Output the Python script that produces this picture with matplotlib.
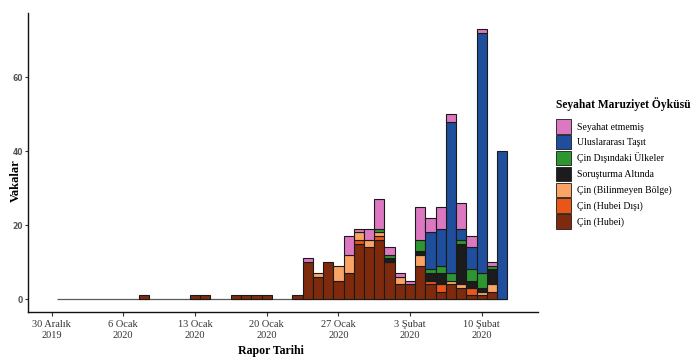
import matplotlib
matplotlib.use("Agg")
import matplotlib.pyplot as plt
import matplotlib.dates as mdates
from matplotlib.patches import Patch
import numpy as np
import pandas as pd

# daily report dates, 31 Dec 2019 .. 12 Feb 2020
dates = pd.date_range("2019-12-31", "2020-02-12", freq="D")

# Dec 31 - Jan 23 (24 days): only Hubei cases
early_zero = [0] * 24

hubei = [0, 0, 0, 0, 0, 0, 0, 0, 1, 0, 0, 0, 0, 1, 1, 0, 0, 1, 1, 1, 1, 0, 0, 1,
         10, 6, 10, 5, 7, 15, 14, 16,
         10, 4, 4, 9, 4, 2, 4, 3, 1, 1, 2, 0]
hubei_disi = early_zero + [0, 0, 0, 0, 0, 1, 0, 1,
                           0, 0, 0, 0, 1, 2, 0, 0, 2, 0, 0, 0]
bilinmeyen = early_zero + [0, 1, 0, 4, 5, 2, 2, 1,
                           0, 2, 0, 3, 0, 0, 1, 1, 0, 1, 2, 0]
sorusturma = early_zero + [0, 0, 0, 0, 0, 0, 0, 0,
                           1, 0, 0, 1, 2, 3, 0, 11, 2, 1, 4, 0]
cin_disi = early_zero + [0, 0, 0, 0, 0, 0, 0, 1,
                         1, 0, 0, 3, 1, 2, 2, 1, 3, 4, 1, 0]
tasit = early_zero + [0, 0, 0, 0, 0, 0, 0, 0,
                      0, 0, 0, 0, 10, 10, 41, 3, 6, 65, 0, 40]
yerel = early_zero + [1, 0, 0, 0, 5, 1, 3, 8,
                      2, 1, 1, 9, 4, 6, 2, 7, 3, 1, 1, 0]

# bottom -> top stacking order
series = [hubei, hubei_disi, bilinmeyen, sorusturma, cin_disi, tasit, yerel]
labels = ["Çin (Hubei)", "Çin (Hubei Dışı)", "Çin (Bilinmeyen Bölge)",
          "Soruşturma Altında", "Çin Dışındaki Ülkeler",
          "Uluslararası Taşıt", "Seyahat etmemiş"]
colors = ["#7F2A0C", "#E8561A", "#F9A465", "#1C1C1C", "#2E9630",
          "#1F4E9C", "#DC78C2"]

tick_dates = pd.to_datetime(["2019-12-30", "2020-01-06", "2020-01-13",
                             "2020-01-20", "2020-01-27", "2020-02-03",
                             "2020-02-10"])
tick_labels = ["30 Aralık\n2019", "6 Ocak\n2020", "13 Ocak\n2020",
               "20 Ocak\n2020", "27 Ocak\n2020", "3 Şubat\n2020",
               "10 Şubat\n2020"]

serif = "Liberation Serif"

fig = plt.figure(figsize=(6.95, 3.59), dpi=100)
ax = fig.add_axes([0.0403, 0.131, 0.734, 0.833])

x = mdates.date2num(dates)

# empty days show up as a flat line along zero
ax.hlines(0, x[0] - 0.5, x[-1] + 0.5, color="#5a5a5a", linewidth=0.9, zorder=1)

bottom = np.zeros(len(x))
for vals, col in zip(series, colors):
    vals = np.array(vals, dtype=float)
    lw = [0.8 if v > 0 else 0 for v in vals]
    ax.bar(x, vals, width=1.0, bottom=bottom, color=col,
           edgecolor="#1a1a1a", linewidth=lw, align="center", zorder=2)
    bottom += vals

ax.set_xlim(x[0] - 3.3, x[-1] + 3.5)
ax.set_ylim(-3.5, 77.4)

ax.set_xticks(mdates.date2num(tick_dates))
ax.set_xticklabels(tick_labels, fontfamily=serif, fontsize=7.5, color="#333333")
ax.set_yticks([0, 20, 40, 60])
ax.set_yticklabels(["0", "20", "40", "60"], fontsize=5.5, color="#555555",
                   fontweight="bold")
ax.tick_params(axis="x", length=3, width=0.8, color="#333333", pad=3)
ax.tick_params(axis="y", length=2, width=0.8, color="#333333", pad=1.5)

for s in ["top", "right"]:
    ax.spines[s].set_visible(False)
for s in ["left", "bottom"]:
    ax.spines[s].set_linewidth(1.0)
    ax.spines[s].set_color("#111111")

ax.set_xlabel("Rapor Tarihi", fontfamily=serif, fontsize=8.6, fontweight="bold")
ax.xaxis.set_label_coords(0.476, -0.11)
ax.set_ylabel("Vakalar", fontfamily=serif, fontsize=9, fontweight="bold")
ax.yaxis.set_label_coords(-0.013, 0.44)

handles = [Patch(facecolor=c, edgecolor="#1a1a1a", linewidth=0.6)
           for c in colors[::-1]]
leg = fig.legend(handles, labels[::-1], loc="upper left",
                 bbox_to_anchor=(0.797, 0.735), frameon=False,
                 title="Seyahat Maruziyet Öyküsü",
                 title_fontproperties={"family": serif, "weight": "bold",
                                       "size": 8.3},
                 prop={"family": serif, "size": 7},
                 handlelength=1.55, handleheight=1.9, labelspacing=0.15,
                 handletextpad=0.6, borderaxespad=0, borderpad=0.2,
                 alignment="left")
leg._legend_box.sep = 6

fig.savefig("out.png", dpi=100)
